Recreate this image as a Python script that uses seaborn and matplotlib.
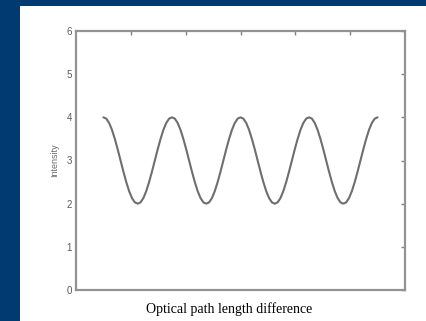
import matplotlib
matplotlib.use("Agg")
import matplotlib.pyplot as plt
import seaborn as sns
import pandas as pd
from matplotlib.patches import Rectangle

# Data (4 fringes, max 4, min 2)
path_diff = [
    0.5, 0.552, 0.604, 0.656, 0.708, 0.760, 0.8125, 0.865, 0.917, 0.969, 1.021, 1.073,
    1.125, 1.177, 1.229, 1.281, 1.333, 1.385, 1.4375, 1.490, 1.542, 1.594, 1.646, 1.698,
    1.75, 1.802, 1.854, 1.906, 1.958, 2.010, 2.0625, 2.115, 2.167, 2.219, 2.271, 2.323,
    2.375, 2.427, 2.479, 2.531, 2.583, 2.635, 2.6875, 2.740, 2.792, 2.844, 2.896, 2.948,
    3.0, 3.052, 3.104, 3.156, 3.208, 3.260, 3.3125, 3.365, 3.417, 3.469, 3.521, 3.573,
    3.625, 3.677, 3.729, 3.781, 3.833, 3.885, 3.9375, 3.990, 4.042, 4.094, 4.146, 4.198,
    4.25, 4.302, 4.354, 4.406, 4.458, 4.510, 4.5625, 4.615, 4.667, 4.719, 4.771, 4.823,
    4.875, 4.927, 4.979, 5.031, 5.083, 5.135, 5.1875, 5.240, 5.292, 5.344, 5.396, 5.448,
    5.5,
]
intensity = [
    4.00, 3.97, 3.87, 3.71, 3.50, 3.26, 3.00, 2.74, 2.50, 2.29, 2.13, 2.03,
    2.00, 2.03, 2.13, 2.29, 2.50, 2.74, 3.00, 3.26, 3.50, 3.71, 3.87, 3.97,
    4.00, 3.97, 3.87, 3.71, 3.50, 3.26, 3.00, 2.74, 2.50, 2.29, 2.13, 2.03,
    2.00, 2.03, 2.13, 2.29, 2.50, 2.74, 3.00, 3.26, 3.50, 3.71, 3.87, 3.97,
    4.00, 3.97, 3.87, 3.71, 3.50, 3.26, 3.00, 2.74, 2.50, 2.29, 2.13, 2.03,
    2.00, 2.03, 2.13, 2.29, 2.50, 2.74, 3.00, 3.26, 3.50, 3.71, 3.87, 3.97,
    4.00, 3.97, 3.87, 3.71, 3.50, 3.26, 3.00, 2.74, 2.50, 2.29, 2.13, 2.03,
    2.00, 2.03, 2.13, 2.29, 2.50, 2.74, 3.00, 3.26, 3.50, 3.71, 3.87, 3.97,
    4.00,
]
x_ticks = [1, 2, 3, 4, 5]
y_ticks = [0, 1, 2, 3, 4, 5, 6]
y_ticklabels = ["0", "1", "2", "3", "4", "5", "6"]

df = pd.DataFrame({"x": path_diff, "Intensity": intensity})

sns.set_style("white")
plt.rcParams["font.family"] = ["Liberation Sans", "DejaVu Sans"]

W, H = 426, 321
fig = plt.figure(figsize=(W / 100, H / 100), dpi=100)
fig.patch.set_facecolor("#003a70")
fig.patches.append(Rectangle((20 / W, 0), 1 - 20 / W, 1 - 6 / H, transform=fig.transFigure,
                             facecolor="white", edgecolor="none", zorder=-5))

ax = fig.add_axes([76 / W, 31 / H, (405 - 76) / W, (290 - 31) / H])
ax.set_zorder(2)
ax.set_facecolor("white")
sns.lineplot(data=df, x="x", y="Intensity", ax=ax, color="#6e6e6e", linewidth=1.5, sort=False)

ax.set_xlim(0, 6)
ax.set_ylim(0, 6)
ax.set_xticks(x_ticks)
ax.set_xticklabels([])
ax.set_yticks(y_ticks)
ax.set_yticklabels(y_ticklabels, fontsize=7, color="#5a5a5a")
ax.tick_params(direction="in", length=3, width=1, color="#808080", top=True, right=True, pad=3)
for s in ax.spines.values():
    s.set_visible(True)
    s.set_color("#939393")
    s.set_linewidth(1.6)

ax.set_ylabel("Intensity", fontsize=6.5, color="#6a6a6a", labelpad=5)
ax.set_xlabel("")
fig.text(229 / W, 1 - 309 / H, "Optical path length difference", ha="center", va="center",
         fontsize=10, family=["Liberation Serif", "DejaVu Serif"], color="black")

fig.savefig("out.png", dpi=100, facecolor=fig.get_facecolor())
